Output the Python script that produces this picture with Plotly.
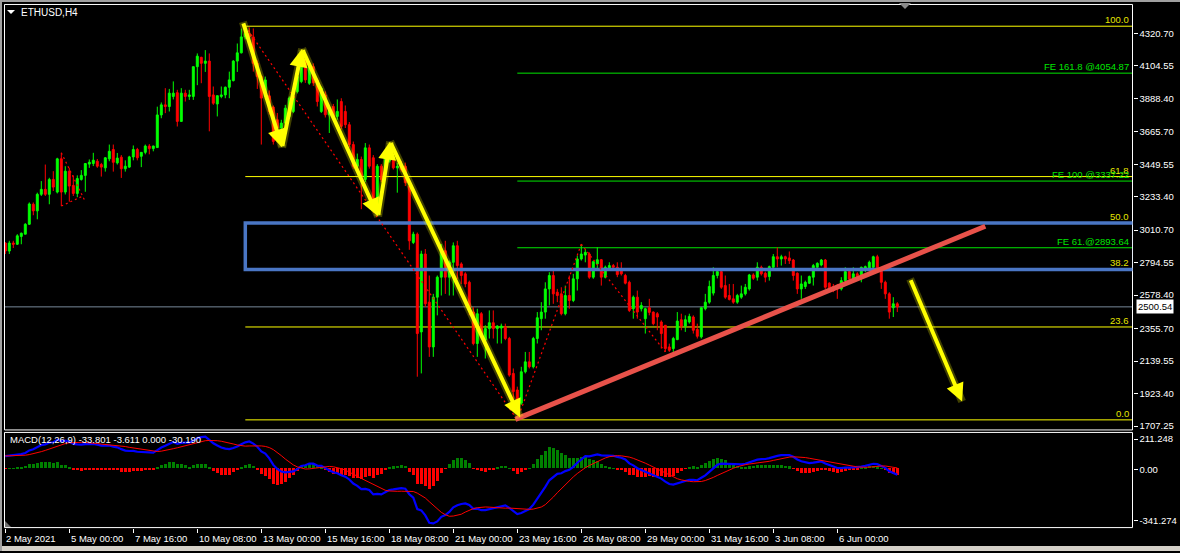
import numpy as np
import plotly.graph_objects as go

# ---------------- data (ETHUSD, H4, bar 0 = 2 May 2021 08:00) ----------------
opens = [
    2925, 2872, 2925, 2917, 2969, 2984, 3050, 3183, 3139, 3249,
    3282, 3249, 3348, 3264, 3485, 3264, 3403, 3308, 3255, 3348,
    3375, 3450, 3454, 3469, 3447, 3425, 3485, 3547, 3458, 3496,
    3419, 3430, 3498, 3547, 3502, 3528, 3570, 3553, 3560, 3777,
    3844, 3833, 3900, 3925, 3734, 3922, 3900, 3900, 4098, 4160,
    4120, 4135, 3910, 3850, 3900, 3910, 3961, 4005, 4135, 4190,
    4296, 4318, 4296, 4120, 4032, 3900, 3904, 3829, 3745, 3690,
    3723, 3767, 3800, 3932, 3999, 4142, 3988, 4098, 4010, 3800,
    3910, 3778, 3833, 3767, 3866, 3800, 3712, 3580, 3436, 3481,
    3348, 3558, 3492, 3172, 3436, 3414, 3470, 3481, 3425, 3436,
    3436, 3304, 2929, 2984, 2334, 2852, 2532, 2234, 2565, 2698,
    2874, 2698, 2797, 2907, 2786, 2720, 2664, 2466, 2257, 2455,
    2279, 2356, 2395, 2356, 2360, 2367, 2290, 2058, 1948, 1860,
    2069, 2135, 2102, 2290, 2422, 2466, 2620, 2709, 2598, 2587,
    2455, 2576, 2543, 2687, 2819, 2845, 2852, 2698, 2786, 2814,
    2698, 2757, 2775, 2764, 2742, 2709, 2664, 2488, 2565, 2488,
    2422, 2495, 2466, 2455, 2400, 2378, 2234, 2223, 2283, 2415,
    2373, 2400, 2433, 2350, 2301, 2488, 2532, 2592, 2709, 2735,
    2642, 2576, 2554, 2532, 2565, 2587, 2620, 2713, 2698, 2764,
    2724, 2702, 2764, 2834, 2819, 2834, 2826, 2812, 2724, 2620,
    2636, 2658, 2698, 2764, 2779, 2812, 2658, 2636, 2631, 2620,
    2675, 2735, 2680, 2720, 2709, 2742, 2759, 2764, 2834, 2746,
    2664, 2587, 2495, 2521,
]
highs = [
    2931, 2940, 2940, 2984, 2995, 3057, 3195, 3195, 3260, 3337,
    3447, 3359, 3403, 3492, 3525, 3436, 3425, 3375, 3375, 3410,
    3454, 3481, 3525, 3484, 3458, 3497, 3580, 3580, 3524, 3510,
    3475, 3505, 3574, 3558, 3530, 3580, 3583, 3573, 3832, 3860,
    3955, 3950, 4000, 3944, 3955, 3944, 3944, 4098, 4186, 4164,
    4208, 4186, 3966, 3905, 3966, 3966, 4065, 4142, 4252, 4351,
    4367, 4360, 4352, 4140, 4040, 4032, 3940, 3840, 3790, 3745,
    3844, 3900, 3920, 4045, 4175, 4160, 4110, 4120, 4020, 3966,
    3933, 3833, 3850, 3880, 3888, 3840, 3730, 3600, 3520, 3500,
    3590, 3580, 3510, 3450, 3450, 3530, 3558, 3510, 3458, 3470,
    3460, 3320, 3000, 2995, 2874, 2885, 2709, 2587, 2709, 2918,
    2940, 2808, 2929, 2940, 2797, 2731, 2675, 2499, 2488, 2466,
    2378, 2477, 2477, 2378, 2389, 2389, 2301, 2091, 1970, 2102,
    2201, 2201, 2301, 2466, 2532, 2664, 2731, 2742, 2620, 2631,
    2642, 2709, 2720, 2841, 2918, 2885, 2863, 2808, 2896, 2819,
    2775, 2797, 2786, 2797, 2797, 2720, 2675, 2576, 2609, 2532,
    2495, 2554, 2470, 2466, 2411, 2380, 2256, 2301, 2466, 2455,
    2444, 2455, 2444, 2389, 2499, 2587, 2675, 2764, 2750, 2753,
    2709, 2653, 2653, 2587, 2642, 2653, 2720, 2724, 2797, 2775,
    2735, 2775, 2852, 2896, 2847, 2841, 2869, 2819, 2730, 2709,
    2675, 2709, 2786, 2797, 2819, 2819, 2664, 2653, 2653, 2698,
    2764, 2746, 2764, 2731, 2768, 2775, 2808, 2841, 2847, 2753,
    2675, 2598, 2565, 2532,
]
lows = [
    2852, 2852, 2892, 2912, 2917, 2984, 3045, 3110, 3083, 3238,
    3238, 3183, 3271, 3255, 3171, 3248, 3200, 3238, 3230, 3340,
    3266, 3425, 3437, 3425, 3367, 3400, 3469, 3400, 3447, 3358,
    3400, 3425, 3475, 3475, 3430, 3515, 3515, 3535, 3560, 3755,
    3789, 3800, 3880, 3700, 3734, 3866, 3877, 3877, 3975, 3988,
    4063, 3668, 3844, 3767, 3888, 3888, 3888, 4000, 4063, 4186,
    4280, 4280, 4065, 3950, 3580, 3880, 3780, 3580, 3640, 3670,
    3701, 3750, 3789, 3920, 3988, 3990, 3977, 3970, 3833, 3790,
    3760, 3657, 3745, 3745, 3680, 3690, 3560, 3420, 3420, 3150,
    3330, 3420, 3150, 3160, 3330, 3400, 3460, 3414, 3260, 3400,
    3304, 2880, 2918, 2036, 2058, 2500, 2168, 2168, 2444, 2576,
    2587, 2576, 2576, 2687, 2653, 2631, 2444, 2245, 2168, 2290,
    2157, 2290, 2290, 2257, 2257, 2279, 2036, 1860, 1749, 1849,
    2058, 2091, 2091, 2257, 2345, 2422, 2510, 2521, 2532, 2444,
    2444, 2488, 2532, 2609, 2808, 2797, 2687, 2687, 2753, 2642,
    2690, 2742, 2742, 2698, 2709, 2650, 2466, 2422, 2422, 2470,
    2323, 2444, 2378, 2345, 2223, 2201, 2201, 2201, 2279, 2345,
    2334, 2389, 2323, 2290, 2290, 2477, 2521, 2576, 2690, 2620,
    2554, 2543, 2521, 2521, 2554, 2576, 2609, 2680, 2675, 2709,
    2664, 2675, 2753, 2764, 2775, 2786, 2786, 2675, 2587, 2554,
    2620, 2653, 2642, 2753, 2770, 2620, 2598, 2598, 2554, 2609,
    2664, 2675, 2664, 2675, 2664, 2731, 2753, 2753, 2731, 2620,
    2554, 2422, 2433, 2466,
]
closes = [
    2872, 2925, 2917, 2973, 2990, 3050, 3185, 3139, 3249, 3282,
    3249, 3348, 3297, 3485, 3264, 3403, 3304, 3255, 3354, 3375,
    3454, 3462, 3476, 3436, 3430, 3492, 3535, 3462, 3490, 3419,
    3436, 3498, 3547, 3492, 3528, 3570, 3553, 3570, 3777, 3844,
    3833, 3922, 3922, 3734, 3922, 3900, 3910, 4098, 4168, 4120,
    4135, 3900, 3855, 3905, 3910, 3961, 4010, 4135, 4190, 4296,
    4318, 4296, 4120, 4032, 3889, 4010, 3800, 3601, 3690, 3723,
    3822, 3889, 3900, 4032, 4131, 4010, 4098, 3990, 3866, 3955,
    3778, 3800, 3767, 3800, 3701, 3712, 3580, 3436, 3481, 3370,
    3558, 3436, 3172, 3436, 3348, 3514, 3536, 3425, 3436, 3414,
    3326, 2940, 2984, 2323, 2852, 2521, 2234, 2565, 2698, 2874,
    2698, 2797, 2907, 2775, 2709, 2653, 2477, 2257, 2455, 2301,
    2356, 2395, 2356, 2373, 2373, 2290, 2047, 1937, 1860, 2069,
    2135, 2102, 2290, 2428, 2466, 2620, 2709, 2587, 2576, 2455,
    2576, 2543, 2687, 2819, 2852, 2863, 2698, 2801, 2814, 2698,
    2764, 2775, 2764, 2715, 2720, 2658, 2477, 2565, 2466, 2510,
    2488, 2464, 2389, 2433, 2323, 2223, 2212, 2290, 2406, 2373,
    2415, 2437, 2345, 2305, 2495, 2532, 2636, 2709, 2735, 2631,
    2565, 2550, 2532, 2576, 2587, 2631, 2713, 2691, 2764, 2720,
    2698, 2768, 2834, 2819, 2834, 2819, 2808, 2709, 2620, 2653,
    2664, 2702, 2775, 2790, 2812, 2631, 2627, 2609, 2620, 2675,
    2735, 2686, 2720, 2686, 2764, 2768, 2797, 2834, 2742, 2664,
    2587, 2466, 2521, 2500.54,
]

x_tick_bars = [0, 16, 32, 48, 64, 80, 96, 112, 128, 144, 160, 176, 192, 208]
x_tick_labels = ["2 May 2021", "5 May 00:00", "7 May 16:00", "10 May 08:00",
                 "13 May 00:00", "15 May 16:00", "18 May 08:00", "21 May 00:00",
                 "23 May 16:00", "26 May 08:00", "29 May 00:00", "31 May 16:00",
                 "3 Jun 08:00", "6 Jun 00:00"]
price_ticks = [4320.70, 4104.55, 3888.40, 3665.70, 3449.55, 3233.40, 3010.70,
               2794.55, 2578.40, 2355.70, 2139.55, 1923.40, 1707.25]
macd_labels = ["211.248", "0.00", "-341.274"]
MACD_MAX, MACD_MIN = 211.248, -341.274
MACD_START = 75.0          # MACD level carried in from before the first bar
CURRENT_PRICE = 2500.54

# Fibonacci retracement (bar 60 high -> bar 128 low)
fib_levels = [0.0, 23.6, 38.2, 50.0, 61.8, 100.0]
FIB_HIGH_BAR, FIB_LOW_BAR = 60, 128
# Fibonacci expansion
fe_prices = [4054.87, 3337.22, 2893.64]
fe_texts = ["FE 161.8 @4054.87", "FE 100 @3337.22", "FE 61.@2893.64"]
FE_START_BAR = 128
# drawn objects (bar index, price)
zigzag_pts = [(60, 4367), (128, 1749), (144, 2918), (165, 2201)]
zigzag_small = [[(14, 3525), (20, 3201)], [(14, 3171), (19, 3233)]]
yellow_path = [(59.4, 4396), (69.2, 3561), (74.2, 4217), (93.2, 3103), (96.2, 3600), (128.7, 1765)]
yellow_forecast = [(226.2, 2687), (239.2, 1871)]
trend_line = [(127.5, 1752), (245.0, 3037)]

# ---------------- indicator (MACD 12,26,9 from the closes) ----------------
c = np.array(closes, dtype=float)
def ema(vals, n, seed):
    k = 2.0 / (n + 1)
    out, prev = [], seed
    for v in vals:
        prev = prev + k * (v - prev)
        out.append(prev)
    return np.array(out)
e12 = ema(c, 12, c[0] - MACD_START * 5.5 / 7)
e26 = ema(c, 26, c[0] - MACD_START * 12.5 / 7)
macd_main = e12 - e26
hist_src = np.concatenate([np.full(8, MACD_START), macd_main])
macd_signal = np.array([hist_src[i:i + 9].mean() for i in range(len(macd_main))])
macd_hist = macd_main - macd_signal

# ---------------- layout geometry (pixels) ----------------
W, H = 1180, 553
def PX(px): return px / W
def PY(py): return 1 - py / H
X0_PX, BAR_PX = 5.3, 4.0
FR_L, FR_R = 4.5, 1132.5
MAIN_T, MAIN_B = 4.5, 431.5
SUB_T, SUB_B = 434.0, 529.5
P_TOP_PX, P_BOT_PX = 33.3, 427.7
p_scale = (price_ticks[0] - price_ticks[-1]) / (P_BOT_PX - P_TOP_PX)
def price_at(py): return price_ticks[0] + (P_TOP_PX - py) * p_scale
XMIN = (FR_L - X0_PX) / BAR_PX
XMAX = (FR_R - X0_PX) / BAR_PX
m_scale = (MACD_MAX - MACD_MIN) / (SUB_B - SUB_T)
def macd_at(py): return MACD_MAX - (py - SUB_T) * m_scale

bars = list(range(len(closes)))
FONT = "Liberation Sans"

fig = go.Figure()
fig.add_trace(go.Candlestick(
    x=bars, open=opens, high=highs, low=lows, close=closes,
    increasing=dict(line=dict(color="#00FF00", width=1), fillcolor="#00FF00"),
    decreasing=dict(line=dict(color="#FF0000", width=1), fillcolor="#FF0000"),
    whiskerwidth=0, hoverinfo="skip", xaxis="x", yaxis="y", showlegend=False))

fig.add_trace(go.Bar(
    x=bars, y=macd_hist, width=0.72,
    marker=dict(color=["#008000" if v >= 0 else "#FF0000" for v in macd_hist], line=dict(width=0)),
    xaxis="x", yaxis="y2", hoverinfo="skip", showlegend=False))
fig.add_trace(go.Scatter(x=bars, y=macd_main, mode="lines", line=dict(color="#0000FF", width=2.2),
                         xaxis="x", yaxis="y2", hoverinfo="skip", showlegend=False))
fig.add_trace(go.Scatter(x=bars, y=macd_signal, mode="lines", line=dict(color="#FF0000", width=1),
                         xaxis="x", yaxis="y2", hoverinfo="skip", showlegend=False))

shapes = []
ann = []
# outer window edges
shapes.append(dict(type="rect", xref="paper", yref="paper", x0=0, x1=1, y0=PY(548), y1=0,
                   fillcolor="#D4D0C8", line=dict(width=0), layer="below"))
shapes.append(dict(type="rect", xref="paper", yref="paper", x0=0, x1=1, y0=PY(0), y1=PY(2),
                   fillcolor="#A0A0A0", line=dict(width=0)))
shapes.append(dict(type="rect", xref="paper", yref="paper", x0=0, x1=PX(2), y0=0, y1=1,
                   fillcolor="#A0A0A0", line=dict(width=0)))
# panel frames
for t, b in [(MAIN_T, MAIN_B), (SUB_T, SUB_B)]:
    shapes.append(dict(type="rect", xref="paper", yref="paper", x0=PX(FR_L), x1=PX(FR_R),
                       y0=PY(b), y1=PY(t), line=dict(color="white", width=1)))

fib_hi, fib_lo = highs[FIB_HIGH_BAR], lows[FIB_LOW_BAR]
fib_price = {lv: fib_lo + lv / 100.0 * (fib_hi - fib_lo) for lv in fib_levels}
for lv in fib_levels:
    shapes.append(dict(type="line", xref="x", yref="y", x0=FIB_HIGH_BAR, x1=XMAX,
                       y0=fib_price[lv], y1=fib_price[lv], line=dict(color="#FFFF00", width=1), layer="below"))
    ann.append(dict(xref="paper", yref="y", x=PX(1131), y=fib_price[lv], text=f"{lv:.1f}",
                    showarrow=False, xanchor="right", yanchor="bottom", yshift=-1,
                    font=dict(family=FONT, size=9.5, color="#E6E600")))
for p, t in zip(fe_prices, fe_texts):
    shapes.append(dict(type="line", xref="x", yref="y", x0=FE_START_BAR, x1=XMAX, y0=p, y1=p,
                       line=dict(color="#00E600", width=1), layer="below"))
    ann.append(dict(xref="paper", yref="y", x=PX(1131), y=p, text=t, showarrow=False,
                    xanchor="right", yanchor="bottom", yshift=-1,
                    font=dict(family=FONT, size=9.5, color="#00E600")))
# current price line
shapes.append(dict(type="line", xref="x", yref="y", x0=XMIN, x1=XMAX, y0=CURRENT_PRICE, y1=CURRENT_PRICE,
                   line=dict(color="#778899", width=1), layer="below"))
# zone rectangle (38.2 - 50.0)
shapes.append(dict(type="rect", xref="x", yref="y", x0=FIB_HIGH_BAR, x1=XMAX + 0.5,
                   y0=fib_price[38.2], y1=fib_price[50.0], line=dict(color="#4A76C4", width=3.5)))
# zigzag dotted
for a, b in list(zip(zigzag_pts[:-1], zigzag_pts[1:])) + [tuple(s) for s in zigzag_small]:
    shapes.append(dict(type="line", xref="x", yref="y", x0=a[0], y0=a[1], x1=b[0], y1=b[1],
                       line=dict(color="#FF0000", width=1.2, dash="2px,3px")))
# trend line
shapes.append(dict(type="line", xref="x", yref="y", x0=trend_line[0][0], y0=trend_line[0][1],
                   x1=trend_line[1][0], y1=trend_line[1][1], line=dict(color="#E8524A", width=5)))
# yellow arrows
for path in [yellow_path, yellow_forecast]:
    for a, b in zip(path[:-1], path[1:]):
        shapes.append(dict(type="line", xref="x", yref="y", x0=a[0], y0=a[1], x1=b[0], y1=b[1],
                           line=dict(color="rgba(255,255,0,0.25)", width=8)))
        ann.append(dict(xref="x", yref="y", axref="x", ayref="y", x=b[0], y=b[1], ax=a[0], ay=a[1],
                        text="", showarrow=True, arrowhead=2, arrowsize=0.9, arrowwidth=4,
                        arrowcolor="#FFFF00", standoff=0, startstandoff=0))
# small markers
shapes.append(dict(type="path", xref="paper", yref="paper",
                   path=f"M {PX(7)} {PY(10)} L {PX(15)} {PY(10)} L {PX(11)} {PY(14)} Z",
                   fillcolor="white", line=dict(width=0)))
shapes.append(dict(type="path", xref="paper", yref="paper",
                   path=f"M {PX(899)} {PY(3)} L {PX(911)} {PY(3)} L {PX(905)} {PY(9)} Z",
                   fillcolor="#8A8A8A", line=dict(width=0)))
shapes.append(dict(type="path", xref="paper", yref="paper",
                   path=f"M {PX(5)} {PY(523)} L {PX(5)} {PY(529)} L {PX(11)} {PY(529)} Z",
                   fillcolor="#707070", line=dict(width=0)))

# texts
ann.append(dict(xref="paper", yref="paper", x=PX(19), y=PY(13), text="ETHUSD,H4", showarrow=False,
                xanchor="left", yanchor="middle", font=dict(family=FONT, size=10, color="white")))
ann.append(dict(xref="paper", yref="paper", x=PX(8), y=PY(441), text="MACD(12,26,9) -33.801 -3.611 0.000 -30.190",
                showarrow=False, xanchor="left", yanchor="middle", font=dict(family=FONT, size=9.5, color="white")))
for b, t in zip(x_tick_bars, x_tick_labels):
    ann.append(dict(xref="x", yref="paper", x=b, y=PY(540), text=t, showarrow=False, xanchor="left",
                    yanchor="middle", xshift=-1 if b == 0 else 0,
                    font=dict(family=FONT, size=9.5, color="white")))
ann.append(dict(xref="paper", yref="y", x=PX(1136), y=CURRENT_PRICE, text="2500.54", showarrow=False,
                xanchor="left", yanchor="middle", bgcolor="white", borderpad=1,
                font=dict(family=FONT, size=9.5, color="black")))

macd_tick_pos = [macd_at(440.7), macd_at(471.3), macd_at(522.5)]

fig.update_layout(
    width=W, height=H, margin=dict(l=0, r=0, t=0, b=0),
    paper_bgcolor="black", plot_bgcolor="black", showlegend=False,
    bargap=0, hovermode=False,
    xaxis=dict(domain=[PX(FR_L), PX(FR_R)], range=[XMIN, XMAX], anchor="y2",
               showgrid=False, zeroline=False, showline=False, rangeslider=dict(visible=False),
               tickvals=x_tick_bars, ticks="outside", ticklen=4, tickcolor="white",
               showticklabels=False, fixedrange=True),
    yaxis=dict(domain=[PY(MAIN_B), PY(MAIN_T)], range=[price_at(MAIN_B), price_at(MAIN_T)],
               side="right", anchor="x", showgrid=False, zeroline=False, showline=False,
               tickvals=price_ticks, ticktext=[f"{v:.2f}" for v in price_ticks],
               ticks="outside", ticklen=4, tickcolor="white",
               tickfont=dict(family=FONT, size=9.5, color="white"), fixedrange=True),
    yaxis2=dict(domain=[PY(SUB_B), PY(SUB_T)], range=[MACD_MIN, MACD_MAX],
                side="right", anchor="x", showgrid=False, zeroline=False, showline=False,
                tickvals=macd_tick_pos, ticktext=macd_labels,
                ticks="outside", ticklen=4, tickcolor="white",
                tickfont=dict(family=FONT, size=9.5, color="white"), fixedrange=True),
    shapes=shapes, annotations=ann,
)

fig.write_html("out.html", config={"displayModeBar": False},
               post_script="document.body.style.margin='0';document.body.style.background='black';")
